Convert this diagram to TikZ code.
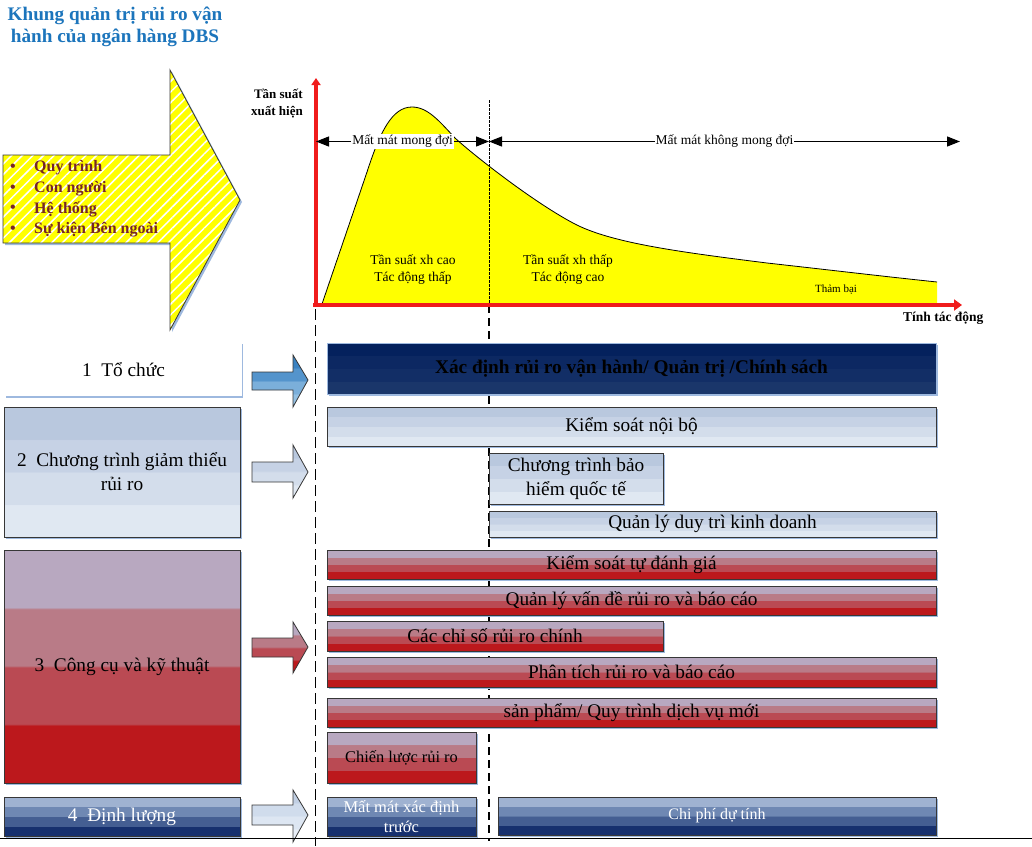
\documentclass[tikz,border=0pt]{standalone}
\usepackage{fontspec}
\setmainfont{Liberation Serif}
\usetikzlibrary{arrows.meta,patterns.meta,shadows}

\definecolor{titleblue}{RGB}{28,117,188}
\definecolor{bulletred}{RGB}{118,38,38}
\definecolor{sblue}{RGB}{158,185,223}
\definecolor{edge}{RGB}{55,55,55}
\definecolor{axisred}{RGB}{240,28,28}
\definecolor{curvey}{RGB}{255,255,0}
% red bands
\definecolor{rA}{RGB}{184,168,192}\definecolor{rB}{RGB}{185,123,135}
\definecolor{rC}{RGB}{186,74,83}\definecolor{rD}{RGB}{188,24,28}
% light blue bands
\definecolor{lA}{RGB}{185,200,222}\definecolor{lB}{RGB}{198,210,229}
\definecolor{lC}{RGB}{211,221,235}\definecolor{lD}{RGB}{224,232,242}
% navy bands
\definecolor{nA}{RGB}{4,33,93}\definecolor{nB}{RGB}{12,40,98}
\definecolor{nC}{RGB}{18,46,102}\definecolor{nD}{RGB}{26,54,106}
% dark blue bands
\definecolor{dA}{RGB}{159,178,209}\definecolor{dB}{RGB}{111,136,179}
\definecolor{dC}{RGB}{68,94,146}\definecolor{dD}{RGB}{22,48,110}
% arrow 1 blue
\definecolor{bA}{RGB}{58,130,193}\definecolor{bB}{RGB}{84,148,204}
\definecolor{bC}{RGB}{123,175,218}\definecolor{bD}{RGB}{147,192,227}
% arrow 4 pale
\definecolor{wA}{RGB}{193,207,227}\definecolor{wB}{RGB}{208,220,236}
\definecolor{wC}{RGB}{221,230,242}\definecolor{wD}{RGB}{232,238,247}

\newcommand\mkbands[5]{\pgfdeclareverticalshading{#1}{100bp}{color(0bp)=(#5); color(37.4bp)=(#5); color(37.6bp)=(#4); color(49.9bp)=(#4); color(50.1bp)=(#3); color(62.4bp)=(#3); color(62.6bp)=(#2); color(100bp)=(#2)}}
\mkbands{redbands}{rA}{rB}{rC}{rD}
\mkbands{ltbands}{lA}{lB}{lC}{lD}
\mkbands{navybands}{nA}{nB}{nC}{nD}
\mkbands{dkbands}{dA}{dB}{dC}{dD}
\mkbands{abluebands}{bA}{bB}{bC}{bD}
\mkbands{palebands}{wA}{wB}{wC}{wD}

\tikzset{
  bar/.style={draw=edge, line width=0.9pt, inner sep=0pt, outer sep=0pt, shade,
    font=\fontsize{19.3}{22}\selectfont, align=center,
    drop shadow={shadow xshift=1.8pt, shadow yshift=-1.8pt, fill=sblue, opacity=1}},
  redbar/.style={bar, shading=redbands},
  ltbar/.style={bar, shading=ltbands},
  navybar/.style={bar, shading=navybands, draw=sblue},
  dkbar/.style={bar, shading=dkbands, text=white},
  arrowbox/.style={draw=edge, line width=0.8pt, shade},
  chartlbl/.style={font=\fontsize{13.5}{17}\selectfont, inner sep=1pt},
  bul/.style={font=\fontsize{16}{19}\selectfont\bfseries, text=bulletred, inner sep=0pt},
  dimarrow/.style={line width=1.1pt, {Triangle[length=13pt,width=10pt]}-{Triangle[length=13pt,width=10pt]}},
  axisline/.style={axisred, line width=3.5pt},
}

\begin{document}
\begin{tikzpicture}[x=1pt,y=-1pt]
\useasboundingbox (0,0) rectangle (1032,846);
\fill[white] (0,0) rectangle (1032,846);

% title
\node[font=\fontsize{19.2}{22.5}\selectfont\bfseries, text=titleblue, align=center] (title) at (115,27) {Khung quản trị rủi ro vận\\hành của ngân hàng DBS};

% big striped arrow
\fill[sblue, shift={(2,2)}] (3,155) -- (170,155) -- (170,70) -- (240,200) -- (170,330) -- (170,243) -- (3,243) -- cycle;
\draw[edge, line width=0.8pt, preaction={fill=curvey}, preaction={pattern={Lines[angle=45,distance=7.5pt,line width=1.5pt]}, pattern color=white}]
  (3,155) -- (170,155) -- (170,70) -- (240,200) -- (170,330) -- (170,243) -- (3,243) -- cycle;
\node[bul] (d1) at (13,168) {•};
\node[bul] (d2) at (13,189) {•};
\node[bul] (d3) at (13,209) {•};
\node[bul] (d4) at (13,230) {•};
\node[bul, anchor=west] (i1) at (34,168) {Quy trình};
\node[bul, anchor=west] (i2) at (34,189) {Con người};
\node[bul, anchor=west] (i3) at (34,209) {Hệ thống};
\node[bul, anchor=west] (i4) at (34,230) {Sự kiện Bên ngoài};

% chart
\coordinate (O) at (316,307);
\coordinate (Ytop) at (316,78);
\coordinate (X0) at (313,305);
\coordinate (Xend) at (962,305);
\fill[curvey] (320,305) -- (322,304) -- (367,172) .. controls (380,132) and (392,107) .. (412,107)
  .. controls (428,107) and (440,122) .. (455,138) .. controls (470,152) and (530,200) .. (573,223)
  .. controls (610,243) and (680,252) .. (767,263) .. controls (830,270) and (880,276) .. (937,282) -- (937,305) -- cycle;
\draw[black, line width=0.8pt] (322,304) -- (367,172) .. controls (380,132) and (392,107) .. (412,107)
  .. controls (428,107) and (440,122) .. (455,138) .. controls (470,152) and (530,200) .. (573,223)
  .. controls (610,243) and (680,252) .. (767,263) .. controls (830,270) and (880,276) .. (937,282);

% dashed guides
\coordinate (L1) at (315.5,309);
\coordinate (L2) at (315.5,846);
\coordinate (R0) at (489,100);
\coordinate (R1) at (489,305);
\coordinate (R2) at (489,841);
\draw[line width=1.6pt, dash pattern=on 11pt off 5pt] (L1) -- (L2);
\draw[line width=0.8pt, dash pattern=on 2.5pt off 1.5pt] (R0) -- (R1);
\draw[line width=1.2pt, dash pattern=on 8pt off 5pt] (R1) -- (R2);

% axes
\draw[axisline, -{Triangle[length=7pt,width=9pt]}] (O) -- (Ytop);
\draw[axisline, -{Triangle[length=8pt,width=11pt]}] (X0) -- (Xend);
\node[font=\fontsize{13}{17}\selectfont\bfseries, align=right, anchor=east, inner sep=0pt] (ylab) at (303,104) {Tần suất\\xuất hiện};
\node[font=\fontsize{13.5}{17}\selectfont\bfseries, anchor=west, inner sep=0pt] (xlab) at (903,318) {Tính tác động};

% dimension arrows
\coordinate (D0) at (316,141.5);
\coordinate (D1) at (489,141.5);
\coordinate (D2) at (960,141.5);
\draw[dimarrow] (D0) -- node[chartlbl, fill=white] (exp) {Mất mát mong đợi} (D1);
\draw[dimarrow] (D1) -- node[chartlbl, fill=white] (unexp) {Mất mát không mong đợi} (D2);

% chart labels
\node[chartlbl, align=center] (hf) at (413,270) {Tần suất xh cao\\Tác động thấp};
\node[chartlbl, align=center] (lf) at (568,270) {Tần suất xh thấp\\Tác động cao};
\node[font=\fontsize{11}{13}\selectfont, inner sep=0pt] (cat) at (836,290) {Thảm bại};

% left boxes
\node[inner sep=0pt, minimum width=235pt, minimum height=52pt, font=\fontsize{19.3}{22}\selectfont] (org) at (123.5,370) {1\enspace Tổ chức};
\draw[sblue, line width=1.6pt] (6,397) -- (242.5,397) -- (242.5,344);
\node[ltbar, minimum width=236pt, minimum height=130pt, font=\fontsize{19.3}{24}\selectfont] (mit) at (122,472) {2\enspace Chương trình giảm thiểu\\rủi ro};
\node[redbar, minimum width=236pt, minimum height=233pt] (tools) at (122,666.5) {3\enspace Công cụ và kỹ thuật};
\node[dkbar, minimum width=236pt, minimum height=39pt] (quant) at (122,816.5) {4\enspace Định lượng};

% block arrows
\shade[arrowbox, shading=abluebands] (252,372) -- (293,372) -- (293,355) -- (308,380) -- (293,407) -- (293,390) -- (252,390) -- cycle;
\shade[arrowbox, shading=ltbands] (252,462) -- (293,462) -- (293,445) -- (308,472) -- (293,498) -- (293,482) -- (252,482) -- cycle;
\shade[arrowbox, shading=redbands] (252,638) -- (293,638) -- (293,622) -- (308,647) -- (293,673) -- (293,657) -- (252,657) -- cycle;
\shade[arrowbox, shading=palebands] (252,805) -- (293,805) -- (293,790) -- (308,815) -- (293,842) -- (293,825) -- (252,825) -- cycle;

% right bars
\node[navybar, minimum width=609pt, minimum height=51pt, font=\fontsize{19.3}{22}\selectfont\bfseries] (def) at (631.5,368.5) {Xác định rủi ro vận hành/ Quản trị /Chính sách};
\node[ltbar, minimum width=609pt, minimum height=39pt] (ic) at (631.5,426.5) {Kiểm soát nội bộ};
\node[ltbar, minimum width=174pt, minimum height=51pt, font=\fontsize{19.3}{24}\selectfont] (ins) at (576,478.5) {Chương trình bảo\\hiểm quốc tế};
\node[ltbar, minimum width=447pt, minimum height=26pt] (bcm) at (712.5,524) {Quản lý duy trì kinh doanh};
\node[redbar, minimum width=609pt, minimum height=29pt] (rcsa) at (631.5,564.5) {Kiểm soát tự đánh giá};
\node[redbar, minimum width=609pt, minimum height=29pt] (issue) at (631.5,600.5) {Quản lý vấn đề rủi ro và báo cáo};
\node[redbar, minimum width=336pt, minimum height=30pt] (kri) at (495,636) {Các chỉ số rủi ro chính};
\node[redbar, minimum width=609pt, minimum height=30pt] (ana) at (631.5,672) {Phân tích rủi ro và báo cáo};
\node[redbar, minimum width=609pt, minimum height=29pt] (npp) at (631.5,712.5) {sản phẩm/ Quy trình dịch vụ mới};
\node[redbar, minimum width=149pt, minimum height=51pt, font=\fontsize{16.4}{19}\selectfont] (strat) at (401.5,757.5) {Chiến lược rủi ro};
\node[dkbar, minimum width=149pt, minimum height=39pt, font=\fontsize{16.5}{20}\selectfont] (el) at (401.5,816.5) {Mất mát xác định\\trước};
\node[dkbar, minimum width=438pt, minimum height=38pt, font=\fontsize{16}{19}\selectfont] (cost) at (717,816) {Chi phí dự tính};

% bottom line
\coordinate (B0) at (0,838.5);
\coordinate (B1) at (1032,838.5);
\draw[line width=1.3pt] (B0) -- (B1);
\end{tikzpicture}
\end{document}
